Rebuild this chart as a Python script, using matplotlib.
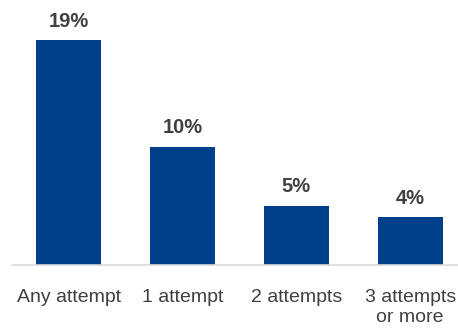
import matplotlib.pyplot as plt
import matplotlib.font_manager as fm

categories = ["Any attempt", "1 attempt", "2 attempts", "3 attempts\nor more"]
values = [19, 10, 5, 4]

bar_color = "#00408A"
text_color = "#404040"

names = {f.name for f in fm.fontManager.ttflist}
family = ["Liberation Sans Narrow", "Liberation Sans", "DejaVu Sans"]
family = [f for f in family if f in names] or ["DejaVu Sans"]
plt.rcParams["font.family"] = family

fig = plt.figure(figsize=(4.58, 3.33), dpi=100)
ax = fig.add_axes([12 / 458, 68.5 / 333, 446 / 458, 236 / 333])

x = range(len(values))
bars = ax.bar(x, values, width=0.57, color=bar_color)

for b, v in zip(bars, values):
    ax.annotate(f"{v}%", (b.get_x() + b.get_width() / 2, v),
                xytext=(0, 7), textcoords="offset points",
                ha="center", va="bottom", fontsize=14.5, fontweight="bold",
                color=text_color)

ax.set_xlim(-0.5, 3.42)
ax.set_ylim(0, 20)
ax.set_xticks(list(x))
ax.set_xticklabels(categories, fontsize=14, color=text_color, linespacing=1.2)
ax.tick_params(axis="x", length=0, pad=18)
ax.set_yticks([])
for s in ["top", "right", "left"]:
    ax.spines[s].set_visible(False)
ax.spines["bottom"].set_color("#D9D9D9")
ax.spines["bottom"].set_linewidth(1.2)

fig.savefig("out.png", dpi=100)
